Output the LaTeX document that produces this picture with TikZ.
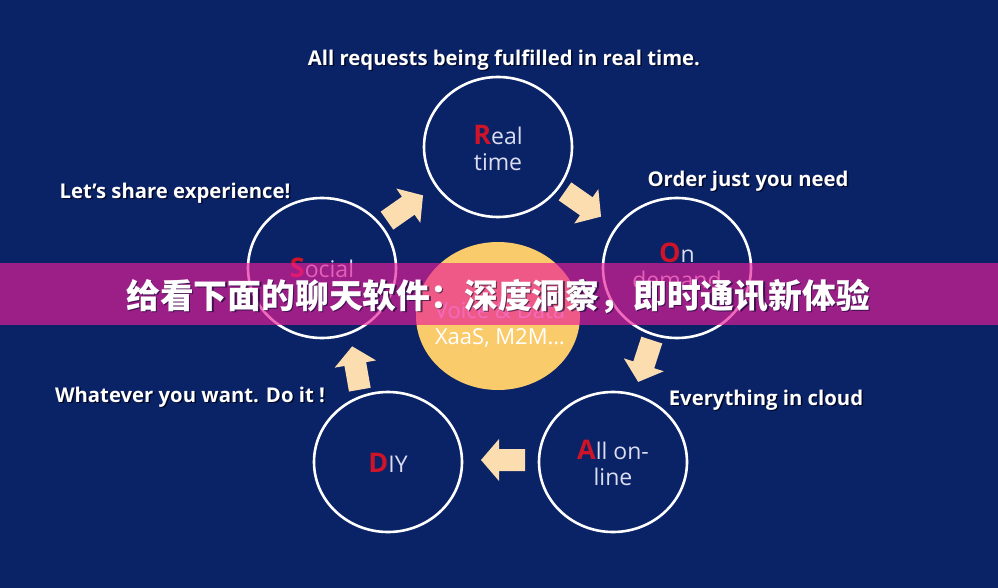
\documentclass[tikz,border=0pt]{standalone}
\usepackage{fontspec}
\setmainfont{Open Sans}
\newfontfamily\cjk{Noto Sans CJK SC}
\usetikzlibrary{shapes.geometric}
\definecolor{bg}{RGB}{10,34,102}
\definecolor{coreyel}{RGB}{249,203,107}
\definecolor{peach}{RGB}{252,221,176}
\definecolor{ringtxt}{RGB}{218,222,240}
\definecolor{firstred}{RGB}{205,20,40}
\definecolor{bannerc}{RGB}{235,28,153}
\definecolor{shadowc}{RGB}{0,8,40}
\newcommand\firstl[1]{{\color{firstred}\bfseries\fontsize{27}{26}\selectfont #1}}
\tikzset{
  ring/.style={ellipse, draw=white, line width=2.6pt, minimum width=148pt, minimum height=140pt, inner sep=0pt},
  core/.style={ellipse, fill=coreyel, minimum width=164pt, minimum height=148pt, inner sep=0pt},
  ringtext/.style={text=ringtxt, align=center, font=\fontsize{23}{26}\selectfont, inner sep=0pt},
  coretext/.style={text=white, align=center, font=\fontsize{22}{26}\selectfont, inner sep=0pt},
  lbl/.style={text=white, font=\bfseries\fontsize{20.3}{22}\selectfont, inner sep=0pt},
  lblsh/.style={text=shadowc, font=\bfseries\fontsize{20.3}{22}\selectfont, inner sep=0pt, xshift=1.5pt, yshift=-1.5pt},
  barrow/.pic={\fill[peach] (-22,-11) -- (4,-11) -- (4,-21) -- (22,0) -- (4,21) -- (4,11) -- (-22,11) -- cycle;}
}
\begin{document}
\begin{tikzpicture}[x=1pt,y=-1pt]
\useasboundingbox (0,0) rectangle (998,588);
\fill[bg] (0,0) rectangle (998,588);
% circles
\node[core] (c) at (498,316) {};
\node[ring] (rt) at (498,147) {};
\node[ring] (od) at (677,268) {};
\node[ring] (so) at (322,268) {};
\node[ring] (diy) at (388,462) {};
\node[ring] (ao) at (613,462) {};
% circle texts
\node[ringtext] (rtx) at (498,148) {\firstl{R}eal\\time};
\node[ringtext] (odx) at (677,266) {\firstl{O}n\\demand};
\node[ringtext] (sox) at (322,268) {\firstl{S}ocial};
\node[ringtext] (diyx) at (388,463) {\firstl{D}IY};
\node[ringtext] (aox) at (613,463) {\firstl{A}ll on-\\line};
\node[coretext] (cx) at (500,325) {Voice \& Data\\XaaS, M2M…};
% block arrows
\pic[rotate=35] (a1) at (405,208) {barrow};
\pic[rotate=-35] (a2) at (583,204) {barrow};
\pic[rotate=-108] (a3) at (645,361) {barrow};
\pic[rotate=180] (a4) at (503,460) {barrow};
\pic[rotate=100] (a5) at (356,368) {barrow};
% labels
\node[lblsh] at (504,60) {All requests being fulfilled in real time.};
\node[lbl] (l1) at (504,60) {All requests being fulfilled in real time.};
\node[lblsh] at (175,193) {Let’s share experience!};
\node[lbl] (l2) at (175,193) {Let’s share experience!};
\node[lblsh] at (748,181) {Order just you need};
\node[lbl] (l3) at (748,181) {Order just you need};
\node[lblsh] at (190,397) {Whatever you want. Do it !};
\node[lbl] (l4) at (190,397) {Whatever you want. Do it !};
\node[lblsh] at (766,400) {Everything in cloud};
\node[lbl] (l5) at (766,400) {Everything in cloud};
% banner
\fill[bannerc, opacity=0.65] (0,263) rectangle (998,325);
\node[text=shadowc, opacity=0.6, font=\cjk\bfseries\fontsize{33.8}{36}\selectfont, inner sep=0pt, xshift=1.5pt, yshift=-1.5pt] at (498,296) {给看下面的聊天软件：深度洞察，即时通讯新体验};
\node[text=white, font=\cjk\bfseries\fontsize{33.8}{36}\selectfont, inner sep=0pt] (title) at (498,296) {给看下面的聊天软件：深度洞察，即时通讯新体验};
\end{tikzpicture}
\end{document}
